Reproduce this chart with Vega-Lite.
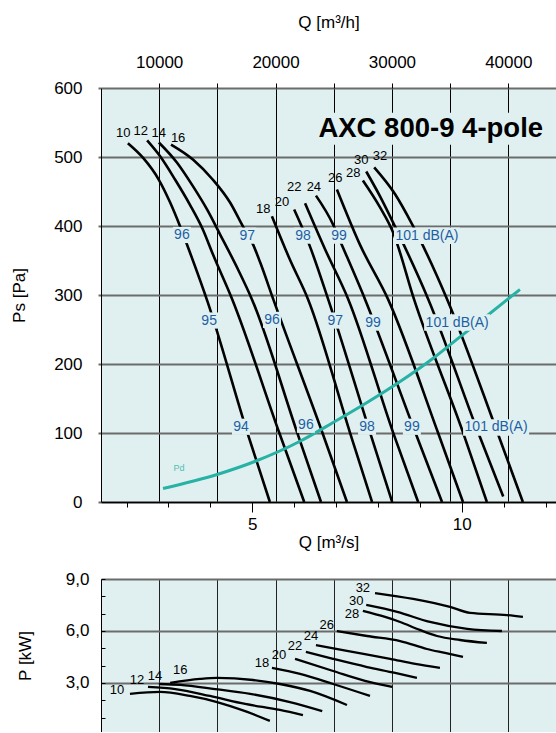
{
  "$schema": "https://vega.github.io/schema/vega-lite/v6.json",
  "background": "white",
  "padding": {"left": 10, "top": 13, "right": 0, "bottom": 0},
  "spacing": 20,
  "datasets": {
    "qtop": [{"q": 1.38889, "ps": 300}, {"q": 11.11111, "ps": 300}],
    "qs": [{"q": 5, "ps": 300}, {"q": 10, "ps": 300}],
    "qgrid": [{"q": 1.38889, "p": 5}, {"q": 11.11111, "p": 5}],
    "fan": [
      {"angle": "10", "q": 2.03, "ps": 520}, {"angle": "10", "q": 2.39, "ps": 499}, {"angle": "10", "q": 2.77, "ps": 467}, {"angle": "10", "q": 3.04, "ps": 434}, {"angle": "10", "q": 3.28, "ps": 399}, {"angle": "10", "q": 3.51, "ps": 362}, {"angle": "10", "q": 3.94, "ps": 289}, {"angle": "10", "q": 4.88, "ps": 101}, {"angle": "10", "q": 5.42, "ps": 0},
      {"angle": "12", "q": 2.49, "ps": 524}, {"angle": "12", "q": 2.80, "ps": 501}, {"angle": "12", "q": 3.16, "ps": 467}, {"angle": "12", "q": 3.51, "ps": 431}, {"angle": "12", "q": 3.82, "ps": 395}, {"angle": "12", "q": 4.06, "ps": 359}, {"angle": "12", "q": 4.52, "ps": 294}, {"angle": "12", "q": 5.64, "ps": 101}, {"angle": "12", "q": 6.24, "ps": 0},
      {"angle": "14", "q": 2.77, "ps": 521}, {"angle": "14", "q": 3.20, "ps": 492}, {"angle": "14", "q": 3.59, "ps": 457}, {"angle": "14", "q": 3.92, "ps": 424}, {"angle": "14", "q": 4.23, "ps": 388}, {"angle": "14", "q": 4.66, "ps": 337}, {"angle": "14", "q": 4.99, "ps": 294}, {"angle": "14", "q": 6.07, "ps": 101}, {"angle": "14", "q": 6.64, "ps": 0},
      {"angle": "16", "q": 3.06, "ps": 518}, {"angle": "16", "q": 3.59, "ps": 496}, {"angle": "16", "q": 4.06, "ps": 467}, {"angle": "16", "q": 4.47, "ps": 434}, {"angle": "16", "q": 4.78, "ps": 399}, {"angle": "16", "q": 5.02, "ps": 373}, {"angle": "16", "q": 5.19, "ps": 347}, {"angle": "16", "q": 5.50, "ps": 294}, {"angle": "16", "q": 6.67, "ps": 101}, {"angle": "16", "q": 7.26, "ps": 0},
      {"angle": "18", "q": 5.47, "ps": 414}, {"angle": "18", "q": 5.90, "ps": 351}, {"angle": "18", "q": 6.33, "ps": 294}, {"angle": "18", "q": 7.33, "ps": 101}, {"angle": "18", "q": 7.86, "ps": 0},
      {"angle": "20", "q": 6.00, "ps": 424}, {"angle": "20", "q": 6.36, "ps": 373}, {"angle": "20", "q": 6.81, "ps": 294}, {"angle": "20", "q": 7.81, "ps": 101}, {"angle": "20", "q": 8.34, "ps": 0},
      {"angle": "22", "q": 6.26, "ps": 433}, {"angle": "22", "q": 6.74, "ps": 366}, {"angle": "22", "q": 7.29, "ps": 294}, {"angle": "22", "q": 8.36, "ps": 101}, {"angle": "22", "q": 8.96, "ps": 0},
      {"angle": "24", "q": 6.52, "ps": 444}, {"angle": "24", "q": 6.93, "ps": 402}, {"angle": "24", "q": 7.10, "ps": 378}, {"angle": "24", "q": 7.69, "ps": 294}, {"angle": "24", "q": 8.89, "ps": 101}, {"angle": "24", "q": 9.53, "ps": 0},
      {"angle": "26", "q": 7.02, "ps": 453}, {"angle": "26", "q": 7.57, "ps": 373}, {"angle": "26", "q": 8.24, "ps": 294}, {"angle": "26", "q": 9.43, "ps": 101}, {"angle": "26", "q": 10.03, "ps": 0},
      {"angle": "28", "q": 7.64, "ps": 466}, {"angle": "28", "q": 8.05, "ps": 427}, {"angle": "28", "q": 8.36, "ps": 391}, {"angle": "28", "q": 8.86, "ps": 294}, {"angle": "28", "q": 10.03, "ps": 101}, {"angle": "28", "q": 10.60, "ps": 0},
      {"angle": "30", "q": 7.72, "ps": 479}, {"angle": "30", "q": 8.05, "ps": 443}, {"angle": "30", "q": 8.41, "ps": 399}, {"angle": "30", "q": 9.20, "ps": 294}, {"angle": "30", "q": 10.39, "ps": 101}, {"angle": "30", "q": 10.99, "ps": 8},
      {"angle": "32", "q": 7.91, "ps": 485}, {"angle": "32", "q": 8.41, "ps": 446}, {"angle": "32", "q": 8.82, "ps": 402}, {"angle": "32", "q": 9.65, "ps": 294}, {"angle": "32", "q": 10.85, "ps": 101}, {"angle": "32", "q": 11.46, "ps": 0}
    ],
    "pd": [
      {"q": 2.87, "ps": 19.6}, {"q": 4.16, "ps": 39.9}, {"q": 5.06, "ps": 58.7}, {"q": 6.14, "ps": 88}, {"q": 6.93, "ps": 115.2}, {"q": 7.74, "ps": 144.2}, {"q": 8.53, "ps": 174.6}, {"q": 9.31, "ps": 208}, {"q": 9.89, "ps": 236}, {"q": 10.44, "ps": 262}, {"q": 11.39, "ps": 308}
    ],
    "pdlab": [{"q": 3.25, "ps": 50, "text": "Pd"}],
    "dblab": [
      {"q": 3.32, "ps": 387, "text": "96"}, {"q": 4.88, "ps": 386, "text": "97"}, {"q": 6.21, "ps": 386, "text": "98"}, {"q": 7.07, "ps": 386, "text": "99"}, {"q": 9.17, "ps": 386, "text": "101 dB(A)"},
      {"q": 3.97, "ps": 263, "text": "95"}, {"q": 5.47, "ps": 264, "text": "96"}, {"q": 6.98, "ps": 263, "text": "97"}, {"q": 7.88, "ps": 260, "text": "99"}, {"q": 9.89, "ps": 260, "text": "101 dB(A)"},
      {"q": 4.73, "ps": 109, "text": "94"}, {"q": 6.28, "ps": 112, "text": "96"}, {"q": 7.74, "ps": 109, "text": "98"}, {"q": 8.81, "ps": 109, "text": "99"}, {"q": 10.82, "ps": 108, "text": "101 dB(A)"}
    ],
    "fanlab": [
      {"q": 1.92, "ps": 535, "text": "10"}, {"q": 2.34, "ps": 538, "text": "12"}, {"q": 2.77, "ps": 535, "text": "14"}, {"q": 3.23, "ps": 528, "text": "16"},
      {"q": 5.26, "ps": 425, "text": "18"}, {"q": 5.71, "ps": 435, "text": "20"}, {"q": 6.00, "ps": 457, "text": "22"}, {"q": 6.47, "ps": 457, "text": "24"},
      {"q": 6.98, "ps": 469, "text": "26"}, {"q": 7.41, "ps": 477, "text": "28"}, {"q": 7.60, "ps": 496, "text": "30"}, {"q": 8.05, "ps": 501, "text": "32"}
    ],
    "title": [{"q": 9.26, "ps": 541, "text": "AXC 800-9 4-pole"}],
    "power": [
      {"angle": "10", "q": 2.08, "p": 2.37}, {"angle": "10", "q": 2.80, "p": 2.48}, {"angle": "10", "q": 3.51, "p": 2.25}, {"angle": "10", "q": 4.16, "p": 1.90}, {"angle": "10", "q": 4.88, "p": 1.33}, {"angle": "10", "q": 5.42, "p": 0.81},
      {"angle": "12", "q": 2.51, "p": 2.77}, {"angle": "12", "q": 3.16, "p": 2.65}, {"angle": "12", "q": 3.99, "p": 2.25}, {"angle": "12", "q": 4.83, "p": 1.79}, {"angle": "12", "q": 5.66, "p": 1.44}, {"angle": "12", "q": 6.21, "p": 1.15},
      {"angle": "14", "q": 2.77, "p": 2.94}, {"angle": "14", "q": 3.28, "p": 2.89}, {"angle": "14", "q": 4.11, "p": 2.65}, {"angle": "14", "q": 4.95, "p": 2.37}, {"angle": "14", "q": 5.90, "p": 1.90}, {"angle": "14", "q": 6.67, "p": 1.38},
      {"angle": "16", "q": 3.04, "p": 3.00}, {"angle": "16", "q": 3.75, "p": 3.23}, {"angle": "16", "q": 4.16, "p": 3.29}, {"angle": "16", "q": 5.02, "p": 3.17}, {"angle": "16", "q": 5.66, "p": 2.94}, {"angle": "16", "q": 6.38, "p": 2.54}, {"angle": "16", "q": 7.26, "p": 1.73},
      {"angle": "18", "q": 5.47, "p": 3.87}, {"angle": "18", "q": 6.14, "p": 3.52}, {"angle": "18", "q": 6.93, "p": 2.94}, {"angle": "18", "q": 7.81, "p": 2.25},
      {"angle": "20", "q": 6.02, "p": 4.39}, {"angle": "20", "q": 6.93, "p": 3.69}, {"angle": "20", "q": 7.69, "p": 3.12}, {"angle": "20", "q": 8.34, "p": 2.77},
      {"angle": "22", "q": 6.28, "p": 4.79}, {"angle": "22", "q": 6.93, "p": 4.39}, {"angle": "22", "q": 7.74, "p": 3.92}, {"angle": "22", "q": 8.41, "p": 3.58}, {"angle": "22", "q": 8.93, "p": 3.29},
      {"angle": "24", "q": 6.52, "p": 5.19}, {"angle": "24", "q": 7.26, "p": 4.85}, {"angle": "24", "q": 8.29, "p": 4.39}, {"angle": "24", "q": 8.89, "p": 4.10}, {"angle": "24", "q": 9.48, "p": 3.87},
      {"angle": "26", "q": 7.02, "p": 6.00}, {"angle": "26", "q": 7.74, "p": 5.71}, {"angle": "26", "q": 8.53, "p": 5.42}, {"angle": "26", "q": 9.17, "p": 4.96}, {"angle": "26", "q": 9.60, "p": 4.73}, {"angle": "26", "q": 10.03, "p": 4.50},
      {"angle": "28", "q": 7.64, "p": 7.16}, {"angle": "28", "q": 8.17, "p": 6.81}, {"angle": "28", "q": 8.53, "p": 6.52}, {"angle": "28", "q": 9.00, "p": 6.06}, {"angle": "28", "q": 9.41, "p": 5.71}, {"angle": "28", "q": 9.96, "p": 5.48}, {"angle": "28", "q": 10.60, "p": 5.31},
      {"angle": "30", "q": 7.72, "p": 7.50}, {"angle": "30", "q": 8.46, "p": 7.10}, {"angle": "30", "q": 9.24, "p": 6.52}, {"angle": "30", "q": 10.13, "p": 6.12}, {"angle": "30", "q": 10.96, "p": 6.00},
      {"angle": "32", "q": 7.93, "p": 8.19}, {"angle": "32", "q": 8.84, "p": 7.85}, {"angle": "32", "q": 9.72, "p": 7.39}, {"angle": "32", "q": 10.20, "p": 7.04}, {"angle": "32", "q": 11.08, "p": 6.92}, {"angle": "32", "q": 11.46, "p": 6.81}
    ],
    "powlab": [
      {"q": 1.77, "p": 2.60, "text": "10"}, {"q": 2.25, "p": 3.17, "text": "12"}, {"q": 2.68, "p": 3.40, "text": "14"}, {"q": 3.28, "p": 3.75, "text": "16"},
      {"q": 5.23, "p": 4.15, "text": "18"}, {"q": 5.64, "p": 4.62, "text": "20"}, {"q": 6.02, "p": 5.14, "text": "22"}, {"q": 6.40, "p": 5.71, "text": "24"},
      {"q": 6.78, "p": 6.35, "text": "26"}, {"q": 7.38, "p": 6.98, "text": "28"}, {"q": 7.48, "p": 7.73, "text": "30"}, {"q": 7.64, "p": 8.48, "text": "32"}
    ]
  },
  "vconcat": [
    {
      "width": 455,
      "height": 414,
      "encoding": {
        "x": {"field": "q", "type": "quantitative", "scale": {"domain": [1.3889, 12.25], "nice": false, "zero": false}, "axis": null},
        "y": {"field": "ps", "type": "quantitative", "scale": {"domain": [0, 600], "nice": false, "zero": false},
          "axis": {"title": "Ps [Pa]", "values": [0, 100, 200, 300, 400, 500, 600], "grid": true, "gridColor": "#6b6b6b", "gridWidth": 2,
            "tickSize": 3, "tickColor": "#6b6b6b", "tickWidth": 2, "domainColor": "#000", "labelPadding": 16, "titlePadding": 25}}
      },
      "layer": [
        {
          "data": {"name": "qtop"},
          "mark": {"type": "point", "opacity": 0},
          "encoding": {
            "x": {"field": "q", "type": "quantitative", "scale": {"domain": [1.3889, 12.25], "nice": false, "zero": false},
              "axis": {"orient": "top", "title": "Q [m³/h]", "values": [1.38889, 2.77778, 4.16667, 5.55556, 6.94444, 8.33333, 9.72222, 11.11111],
                "labelExpr": "round(datum.value * 3600) % 10000 === 0 ? format(round(datum.value * 3600), 'd') : ''",
                "grid": true, "gridColor": "#000", "gridWidth": 1, "tickSize": 5, "domain": false, "labelPadding": 12, "titlePadding": 22}}
          }
        },
        {
          "data": {"name": "qs"},
          "mark": {"type": "point", "opacity": 0},
          "encoding": {
            "x": {"field": "q", "type": "quantitative", "scale": {"domain": [1.3889, 12.25], "nice": false, "zero": false},
              "axis": {"orient": "bottom", "title": "Q [m³/s]", "values": [5, 10], "tickSize": 10, "domain": false, "grid": false, "labelPadding": 4, "titlePadding": 2}}
          }
        },
        {
          "data": {"name": "title"},
          "mark": {"type": "point", "filled": true, "opacity": 1, "color": "#e0f0f0", "shape": "M-1,-0.128H1V0.128H-1Z", "size": 62500, "strokeWidth": 0, "clip": true},
          "encoding": {
            "x": {"field": "q", "type": "quantitative", "scale": {"domain": [1.3889, 12.25], "nice": false, "zero": false},
              "axis": {"orient": "bottom", "values": [2, 3, 4, 6, 7, 8, 9, 11, 12], "labels": false, "tickSize": 5, "title": null, "grid": false, "domainColor": "#000", "domainWidth": 1.5}}
          }
        },
        {"data": {"name": "fan"}, "mark": {"type": "line", "interpolate": "monotone", "strokeWidth": 2.6, "color": "#000"}, "encoding": {"detail": {"field": "angle"}}},
        {"data": {"name": "pd"}, "mark": {"type": "line", "interpolate": "monotone", "strokeWidth": 3, "color": "#27b2a5"}},
        {"data": {"name": "dblab"}, "transform": [{"filter": "datum.text != '101 dB(A)'"}], "mark": {"type": "point", "filled": true, "opacity": 1, "color": "#e0f0f0", "shape": "M-1,-0.9H1V0.9H-1Z", "size": 324, "strokeWidth": 0}},
        {"data": {"name": "dblab"}, "transform": [{"filter": "datum.text == '101 dB(A)'"}], "mark": {"type": "point", "filled": true, "opacity": 1, "color": "#e0f0f0", "shape": "M-1,-0.25H1V0.25H-1Z", "size": 4356, "strokeWidth": 0}},
        {"data": {"name": "dblab"}, "mark": {"type": "text", "font": "Liberation Sans", "fontSize": 14, "color": "#1c5fa6", "align": "center", "baseline": "middle"}, "encoding": {"text": {"field": "text"}}},
        {"data": {"name": "fanlab"}, "mark": {"type": "text", "font": "Liberation Sans", "fontSize": 13, "color": "#000", "align": "center", "baseline": "middle"}, "encoding": {"text": {"field": "text"}}},
        {"data": {"name": "pdlab"}, "mark": {"type": "text", "font": "Liberation Sans", "fontSize": 9, "color": "#4dbdb5", "align": "center", "baseline": "middle"}, "encoding": {"text": {"field": "text"}}},
        {"data": {"name": "title"}, "mark": {"type": "text", "font": "Liberation Sans", "fontSize": 27.5, "fontWeight": "bold", "color": "#000", "align": "center", "baseline": "middle"}, "encoding": {"text": {"field": "text"}}}
      ],
      "resolve": {"axis": {"x": "independent"}}
    },
    {
      "width": 455,
      "height": 153,
      "encoding": {
        "x": {"field": "q", "type": "quantitative", "scale": {"domain": [1.3889, 12.25], "nice": false, "zero": false}, "axis": null},
        "y": {"field": "p", "type": "quantitative", "scale": {"domain": [0.17, 9], "nice": false, "zero": false},
          "axis": {"title": "P [kW]", "values": [1, 2, 3, 4, 5, 6, 7, 8, 9],
            "labelExpr": "datum.value % 3 === 0 ? replace(format(datum.value, '.1f'), '.', ',') : ''",
            "grid": true, "gridColor": "#6b6b6b", "gridWidth": 2,
            "gridOpacity": {"condition": {"test": "datum.value % 3 === 0", "value": 1}, "value": 0},
            "tickSize": -4, "tickColor": "#000", "domainColor": "#000", "labelPadding": 16, "titlePadding": 31}}
      },
      "layer": [
        {
          "data": {"name": "qgrid"},
          "mark": {"type": "point", "opacity": 0},
          "encoding": {
            "x": {"field": "q", "type": "quantitative", "scale": {"domain": [1.3889, 12.25], "nice": false, "zero": false},
              "axis": {"orient": "bottom", "values": [1.38889, 2.77778, 4.16667, 5.55556, 6.94444, 8.33333, 9.72222, 11.11111], "labels": false, "ticks": false, "domain": false, "title": null, "grid": true, "gridColor": "#222", "gridWidth": 1}}
          }
        },
        {"data": {"name": "power"}, "mark": {"type": "line", "interpolate": "monotone", "strokeWidth": 2.3, "color": "#000"}, "encoding": {"detail": {"field": "angle"}}},
        {"data": {"name": "powlab"}, "mark": {"type": "text", "font": "Liberation Sans", "fontSize": 13, "color": "#000", "align": "center", "baseline": "middle"}, "encoding": {"text": {"field": "text"}}}
      ],
      "resolve": {"axis": {"x": "independent"}}
    }
  ],
  "config": {
    "view": {"fill": "#e0f0f0", "stroke": null},
    "font": "Liberation Sans",
    "axis": {"labelFont": "Liberation Sans", "titleFont": "Liberation Sans", "labelColor": "#000", "titleColor": "#000", "titleFontWeight": "normal", "labelFontSize": 17, "titleFontSize": 17, "domainColor": "#000", "tickColor": "#000"}
  }
}
